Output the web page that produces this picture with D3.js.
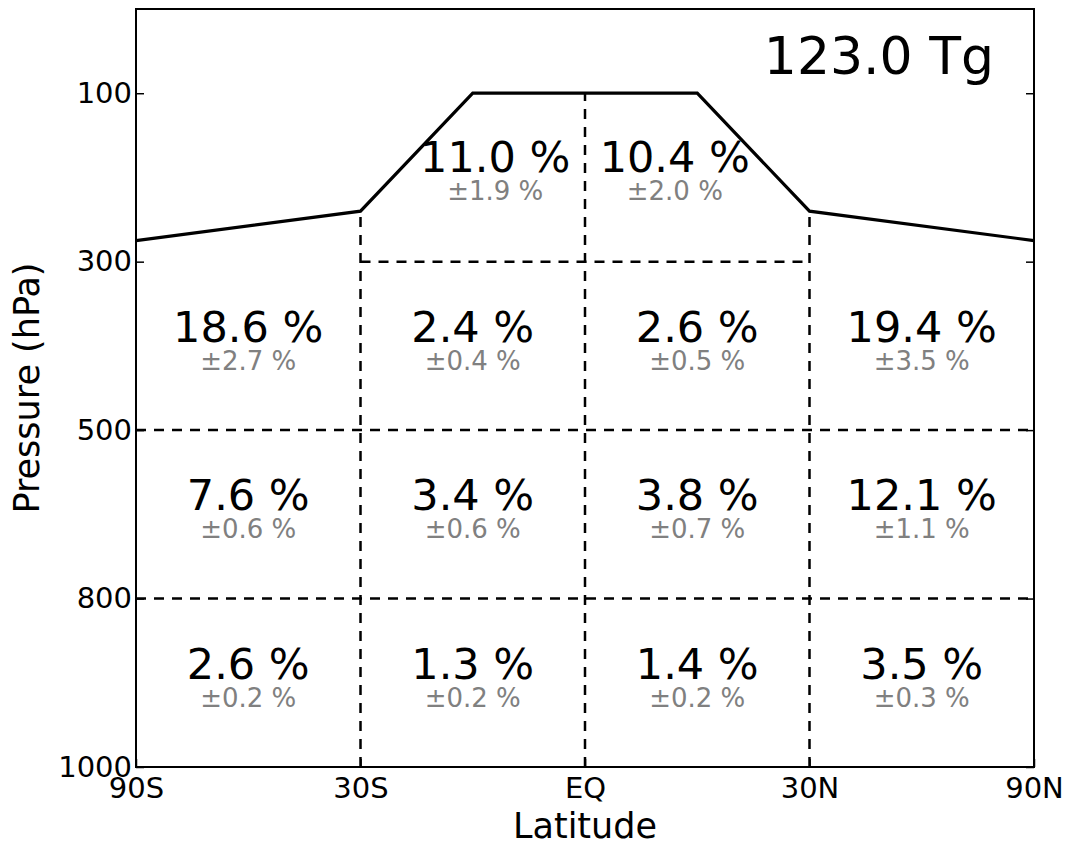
<!DOCTYPE html>
<html>
<head>
<meta charset="utf-8">
<script src="https://cdn.jsdelivr.net/npm/d3@7"></script>
<style>
  html, body { margin: 0; padding: 0; background: #fff; }
  svg { display: block; font-family: "DejaVu Sans", sans-serif; }
</style>
</head>
<body>
<svg id="chart" width="1075" height="848"></svg>
<script>
// ---- data ----
const latTicks = [-90, -30, 0, 30, 90];
const latTickLabels = ["90S", "30S", "EQ", "30N", "90N"];
const presTicks = [1000, 800, 500, 300, 100];
const presTickLabels = ["1000", "800", "500", "300", "100"];
const presTop = 0;

// tropopause line (lat, hPa)
const tropLat = [-90, -30, -15, 15, 30, 90];
const tropPres = [275, 240, 100, 100, 240, 275];

// region boundaries
const hLines = [ // [pressure, lat0, lat1]
  [300, -30, 30],
  [500, -90, 90],
  [800, -90, 90]
];
const vLines = [ // [lat, pTop, pBottom]
  [-30, 240, 1000],
  [0, 100, 1000],
  [30, 240, 1000]
];

// upper tropical labels
const topLabels = ["11.0 %", "10.4 %"];
const topErr = ["±1.9 %", "±2.0 %"];
const topLat = [-12, 12];
const topPres = 200;

// grid cell labels
const rowPres = [400, 650, 900];
const colEdges = [-90, -30, 0, 30, 90];
const values = [
  ["18.6 %", "2.4 %", "2.6 %", "19.4 %"],
  ["7.6 %", "3.4 %", "3.8 %", "12.1 %"],
  ["2.6 %", "1.3 %", "1.4 %", "3.5 %"]
];
const errors = [
  ["±2.7 %", "±0.4 %", "±0.5 %", "±3.5 %"],
  ["±0.6 %", "±0.6 %", "±0.7 %", "±1.1 %"],
  ["±0.2 %", "±0.2 %", "±0.2 %", "±0.3 %"]
];
const totalLabel = "123.0 Tg";

// ---- layout ----
const L = 136, R = 1034, T = 9, B = 767;
const svg = d3.select("#chart");

const x = d3.scaleLinear()
  .domain(latTicks)
  .range(latTicks.map((d, i) => L + (R - L) * i / (latTicks.length - 1)));
const step = (B - T) / 4.5;
const y = d3.scaleLinear()
  .domain([...presTicks, presTop])
  .range([B, B - step, B - 2 * step, B - 3 * step, B - 4 * step, T]);

// dashed region lines
const dash = "10,8";
svg.append("g").selectAll("line").data(hLines).join("line")
  .attr("x1", d => x(d[1])).attr("x2", d => x(d[2]))
  .attr("y1", d => y(d[0])).attr("y2", d => y(d[0]))
  .attr("stroke", "#000").attr("stroke-width", 2.5).attr("stroke-dasharray", dash);
svg.append("g").selectAll("line").data(vLines).join("line")
  .attr("x1", d => x(d[0])).attr("x2", d => x(d[0]))
  .attr("y1", d => y(d[2])).attr("y2", d => y(d[1]))
  .attr("stroke", "#000").attr("stroke-width", 2.5).attr("stroke-dasharray", dash);

// tropopause
const line = d3.line().x(d => x(d[0])).y(d => y(d[1]));
svg.append("path")
  .attr("d", line(tropLat.map((d, i) => [d, tropPres[i]])))
  .attr("fill", "none").attr("stroke", "#000").attr("stroke-width", 3.2)
  .attr("stroke-linejoin", "miter");

// axes (ticks inside)
const yLeft = d3.axisLeft(y).tickValues(presTicks)
  .tickFormat((d, i) => presTickLabels[i]).tickSizeInner(-8).tickSizeOuter(0).tickPadding(4);
const gL = svg.append("g").attr("transform", `translate(${L},0)`).call(yLeft);
gL.select(".domain").remove();
gL.selectAll("line").attr("stroke-width", 1.5);
gL.selectAll("text").attr("font-size", 29).attr("font-family", "DejaVu Sans").attr("fill", "#000")
  .attr("dy", "0.32em");

const yRight = d3.axisRight(y).tickValues(presTicks).tickFormat("")
  .tickSizeInner(-8).tickSizeOuter(0);
const gR = svg.append("g").attr("transform", `translate(${R},0)`).call(yRight);
gR.select(".domain").remove();
gR.selectAll("line").attr("stroke-width", 1.5);

const xBottom = d3.axisBottom(x).tickValues(latTicks)
  .tickFormat((d, i) => latTickLabels[i]).tickSizeInner(-8).tickSizeOuter(0).tickPadding(12);
const gB = svg.append("g").attr("transform", `translate(0,${B})`).call(xBottom);
gB.select(".domain").remove();
gB.selectAll("line").attr("stroke-width", 1.5);
gB.selectAll("text").attr("font-size", 29).attr("font-family", "DejaVu Sans").attr("fill", "#000")
  .attr("y", 31).attr("dy", 0);

// frame
svg.append("rect").attr("x", L).attr("y", T).attr("width", R - L).attr("height", B - T)
  .attr("fill", "none").attr("stroke", "#000").attr("stroke-width", 2);

// axis labels
svg.append("text").attr("x", (L + R) / 2).attr("y", 838)
  .attr("text-anchor", "middle").attr("font-size", 35).text("Latitude");
svg.append("text").attr("transform", `translate(39,${(T + B) / 2}) rotate(-90)`)
  .attr("text-anchor", "middle").attr("font-size", 35).text("Pressure (hPa)");

// total
svg.append("text").attr("x", 994).attr("y", 74).attr("text-anchor", "end")
  .attr("font-size", 52).text(totalLabel);

// top tropical labels
const gTop = svg.append("g");
gTop.selectAll("text.v").data(topLabels).join("text").attr("class", "v")
  .attr("x", (d, i) => x(topLat[i])).attr("y", y(topPres) - 5)
  .attr("text-anchor", "middle").attr("font-size", 43).text(d => d);
gTop.selectAll("text.e").data(topErr).join("text").attr("class", "e")
  .attr("x", (d, i) => x(topLat[i])).attr("y", y(topPres) + 23)
  .attr("text-anchor", "middle").attr("font-size", 26).attr("fill", "#808080").text(d => d);

// grid cells
const cells = [];
values.forEach((row, r) => row.forEach((v, c) => cells.push({
  v, e: errors[r][c], c, p: rowPres[r]
})));
const cx = d => (x(colEdges[d.c]) + x(colEdges[d.c + 1])) / 2;
const gC = svg.append("g");
gC.selectAll("text.v").data(cells).join("text").attr("class", "v")
  .attr("x", cx).attr("y", d => y(d.p) - 4)
  .attr("text-anchor", "middle").attr("font-size", 43).text(d => d.v);
gC.selectAll("text.e").data(cells).join("text").attr("class", "e")
  .attr("x", cx).attr("y", d => y(d.p) + 24)
  .attr("text-anchor", "middle").attr("font-size", 26).attr("fill", "#808080").text(d => d.e);
</script>
</body>
</html>
